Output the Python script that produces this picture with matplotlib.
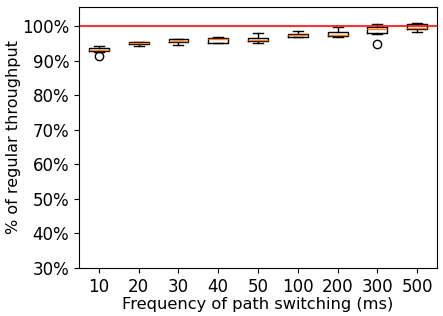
import matplotlib
matplotlib.use('Agg')
import matplotlib.pyplot as plt

# path switching frequencies (ms)
freqs = ['10', '20', '30', '40', '50', '100', '200', '300', '500']

# box stats (% of regular throughput)
whislo = [92.5, 94.2, 94.4, 95.0, 95.1, 96.7, 96.7, 97.8, 98.2]
q1 = [92.7, 94.7, 95.3, 95.2, 95.6, 96.8, 97.2, 98.1, 99.1]
med = [93.1, 95.0, 95.6, 96.3, 96.0, 97.3, 97.5, 99.0, 99.3]
q3 = [93.6, 95.3, 96.2, 96.5, 96.4, 97.7, 98.3, 99.7, 100.5]
whishi = [94.1, 95.3, 96.2, 96.7, 97.9, 98.6, 99.6, 100.5, 100.8]
fliers = [[91.3], [], [], [], [], [], [], [94.7], []]

stats = []
for i in range(len(freqs)):
    stats.append({'label': freqs[i], 'whislo': whislo[i], 'q1': q1[i], 'med': med[i],
                  'q3': q3[i], 'whishi': whishi[i], 'fliers': fliers[i]})

fig = plt.figure(figsize=(4.43, 3.16), dpi=100)
ax = fig.add_axes([79 / 443, 1 - 268 / 316, 358 / 443, 261 / 316])
ax.bxp(stats, positions=range(1, len(freqs) + 1), widths=0.5)
ax.axhline(100, color='red', linewidth=1.5, alpha=0.8)

ax.set_ylim(30, 105.5)
ax.set_yticks(range(30, 101, 10))
ax.set_yticklabels([f'{v}%' for v in range(30, 101, 10)])
ax.tick_params(labelsize=12)
ax.set_xlabel('Frequency of path switching (ms)', fontsize=11.7, labelpad=1)
ax.set_ylabel('% of regular throughput', fontsize=11.5, labelpad=1)

fig.savefig('out.png', dpi=100)
